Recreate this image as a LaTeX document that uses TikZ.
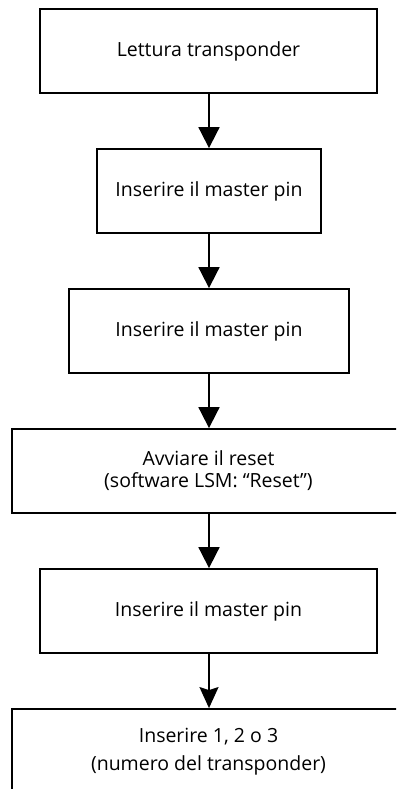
\documentclass[tikz,border=0pt]{standalone}
\usepackage{fontspec}
\setmainfont{Open Sans}
\usetikzlibrary{arrows.meta}
\begin{document}
\begin{tikzpicture}[x=1pt,y=-1pt,
  box/.style={draw, line width=1.8pt, rectangle, minimum height=84pt, inner sep=0pt, align=center, font=\fontsize{19.5}{22}\selectfont},
  arr/.style={line width=1.8pt, -{Triangle[length=21pt,width=21pt]}},
  arrs/.style={line width=1.8pt, -{Stealth[length=21pt,width=19pt,inset=3pt]}}]
\clip (0,0) rectangle (396,789);
\fill[white] (0,0) rectangle (396,789);
\node[box, minimum width=337pt] (b1) at (208.5,51) {Lettura transponder};
\node[box, minimum width=224pt] (b2) at (209,191) {Inserire il master pin};
\node[box, minimum width=280pt] (b3) at (209,331) {Inserire il master pin};
\node[box, minimum width=393pt] (b4) at (208.5,471) {Avviare il reset\\(software LSM: “Reset”)};
\node[box, minimum width=393pt, minimum height=86pt, font=\fontsize{19.5}{28}\selectfont] (b6) at (208.5,752) {Inserire 1, 2 o 3\\(numero del transponder)};
\node[box, minimum width=337pt] (b5) at (208.5,611) {Inserire il master pin};
\draw[arr] (b1.south -| 209,0) -- (b2.north -| 209,0);
\draw[arr] (b2) -- (b3);
\draw[arr] (b3) -- (b4.north -| 209,0);
\draw[arr] (b4.south -| 209,0) -- (b5.north -| 209,0);
\draw[arrs] (b5.south -| 209,0) -- (b6.north -| 209,0);
\end{tikzpicture}
\end{document}
